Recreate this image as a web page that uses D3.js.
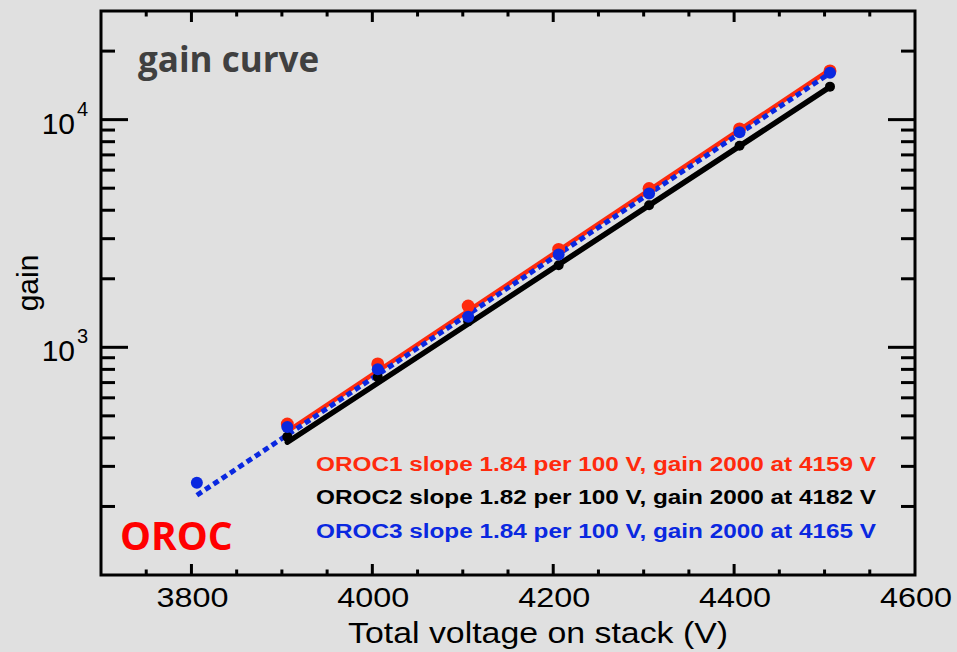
<!DOCTYPE html>
<html><head><meta charset="utf-8">
<script src="https://cdn.jsdelivr.net/npm/d3@7"></script>
<style>
html,body{margin:0;padding:0;background:#e0e0e0;}
svg{display:block;}
</style></head>
<body>
<svg id="chart" width="957" height="652"></svg>
<script>
// ---- data ----
const voltages = [3806, 3906, 4006, 4106, 4206, 4306, 4406, 4506];
const oroc1Gain = [null, 460, 845, 1517, 2692, 4980, 9100, 16360];
const oroc2Gain = [null, 405, 740, 1300, 2295, 4210, 7680, 13960];
const oroc3Gain = [254, 447, 801, 1361, 2559, 4733, 8800, 16070];
const seriesNames = ["OROC1", "OROC2", "OROC3"];
const fitSlopes = [1.84, 1.82, 1.84];      // gain factor per 100 V
const fitV2000 = [4159, 4182, 4165];       // voltage at gain 2000
const fitStart = [3906, 3906, 3806];
const fitEnd = [4506, 4506, 4506];
const xTickLabels = [3800, 4000, 4200, 4400, 4600];
const yTickExponents = [3, 4];

const colors = ["#ff2a0d", "#000000", "#0a28e0"];
const svg = d3.select("#chart");
svg.append("rect").attr("width",957).attr("height",652).attr("fill","#e0e0e0");

const L=101, R=915, T=11, B=575;
const x = d3.scaleLinear().domain([3700,4600]).range([L,R]);
const y = d3.scaleLog().domain([100,30000]).range([B,T]);

// fit lines
const lineGen = d3.line().x(d=>x(d[0])).y(d=>y(d[1]));
function fitPts(i){
  const a=fitStart[i], b=fitEnd[i];
  return [a,b].map(v=>[v, 2000*Math.pow(fitSlopes[i],(v-fitV2000[i])/100)]);
}
const g = svg.append("g");
// order: black, red, blue dashed
[[1,5.5,null],[0,4.5,null],[2,5,"6,4"]].forEach(([i,w,dash])=>{
  g.append("path").attr("d",lineGen(fitPts(i))).attr("fill","none")
   .attr("stroke",colors[i]).attr("stroke-width",w)
   .attr("stroke-dasharray",dash).attr("stroke-linecap", dash?"butt":"round");
});

// points
const allGains=[oroc1Gain,oroc2Gain,oroc3Gain];
const radii=[6.5,5,6];
[0,1,2].forEach(i=>{
  const pts = voltages.map((v,k)=>[v,allGains[i][k]]).filter(d=>d[1]!=null);
  g.selectAll(null).data(pts).enter().append("circle")
    .attr("cx",d=>x(d[0])).attr("cy",d=>y(d[1])).attr("r",radii[i])
    .attr("fill",colors[i]);
});

// axes frame
const ax = svg.append("g").attr("stroke","#000").attr("stroke-width",3).attr("fill","none");
ax.append("rect").attr("x",L).attr("y",T).attr("width",R-L).attr("height",B-T);

// x ticks
const xMinor = d3.range(3750,4600,50);
xMinor.forEach(v=>{
  const major = (v%200===0);
  const len = major?11:5.5;
  ax.append("line").attr("x1",x(v)).attr("x2",x(v)).attr("y1",B).attr("y2",B-len);
  ax.append("line").attr("x1",x(v)).attr("x2",x(v)).attr("y1",T).attr("y2",T+len);
});
// y ticks
const yTicks = [];
[100,1000,10000].forEach(base=>{
  for(let m=1;m<10;m++){ const val=base*m; if(val>100 && val<30000) yTicks.push(val); }
});
yTicks.forEach(val=>{
  const major = yTickExponents.some(e=>Math.abs(val-Math.pow(10,e))<1e-6);
  const len = major?27:14;
  ax.append("line").attr("x1",L).attr("x2",L+len).attr("y1",y(val)).attr("y2",y(val));
  ax.append("line").attr("x1",R).attr("x2",R-len).attr("y1",y(val)).attr("y2",y(val));
});

const font = "'Liberation Sans', Arial, Helvetica, sans-serif";
// x tick labels
svg.selectAll(null).data(xTickLabels).enter().append("text")
  .attr("x",d=>x(d)-35).attr("y",607)
  .attr("textLength",72).attr("lengthAdjust","spacingAndGlyphs")
  .attr("font-family",font).attr("font-size",28).attr("fill","#000").text(d=>d);
// y tick labels
yTickExponents.forEach(e=>{
  const yy = y(Math.pow(10,e));
  svg.append("text").attr("x",75).attr("y",yy+14).attr("text-anchor","end")
    .attr("font-family",font).attr("font-size",30).attr("fill","#000").text("10");
  svg.append("text").attr("x",77).attr("y",yy-4).attr("font-family",font)
    .attr("font-size",20).attr("fill","#000").text(e);
});
// axis titles
svg.append("text").attr("x",348).attr("y",643)
  .attr("textLength",380).attr("lengthAdjust","spacingAndGlyphs")
  .attr("font-family",font).attr("font-size",30).attr("fill","#000").text("Total voltage on stack (V)");
svg.append("text").attr("transform","translate(38,283) rotate(-90)").attr("text-anchor","middle")
  .attr("font-family",font).attr("font-size",30).attr("fill","#000").text("gain");

// title
svg.append("text").attr("x",138).attr("y",72).attr("font-family","'Open Sans', 'Noto Sans', sans-serif")
  .attr("font-weight","bold").attr("font-size",35).attr("fill","#404040").text("gain curve");
// OROC label
svg.append("text").attr("x",120).attr("y",550).attr("font-family","'Open Sans', 'Noto Sans', sans-serif")
  .attr("font-weight","bold").attr("font-size",39).attr("fill","#ff0000").text("OROC");

// legend
seriesNames.forEach((n,i)=>{
  svg.append("text").attr("x",316).attr("y",471+i*33.3)
    .attr("textLength",560).attr("lengthAdjust","spacingAndGlyphs")
    .attr("font-family",font).attr("font-weight","bold").attr("font-size",20)
    .attr("fill",colors[i])
    .text(`${n} slope ${fitSlopes[i].toFixed(2)} per 100 V, gain 2000 at ${fitV2000[i]} V`);
});
</script>
</body></html>
